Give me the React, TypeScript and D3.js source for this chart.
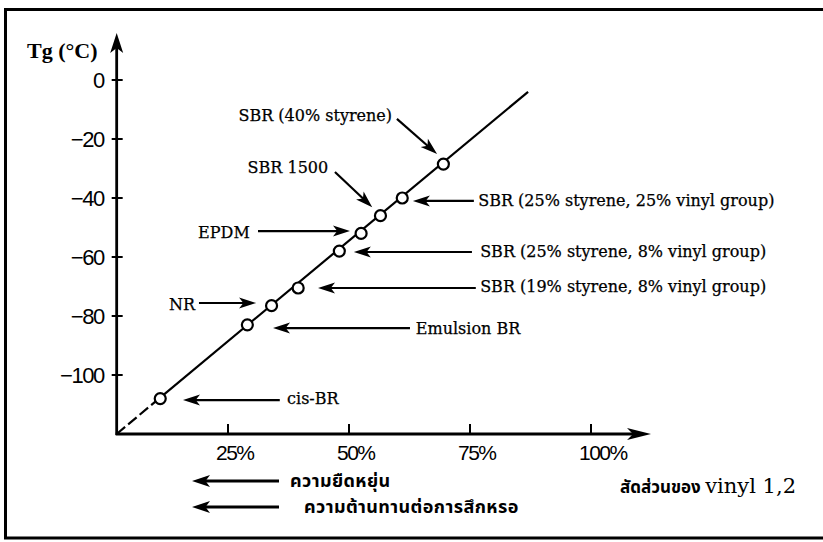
import * as d3 from "d3";
import { useEffect, useRef } from "react";

const width = 823;
const height = 542;

// rubbers: 1,2-vinyl share (%) and Tg (°C)
const rubbers = ["cis-BR", "Emulsion BR", "NR", "SBR19/8", "SBR25/8", "EPDM", "SBR 1500", "SBR25/25", "SBR40"];
const vinylShare = [11, 29, 34, 39.5, 48, 52.5, 56.5, 61, 69.5];
const tgValues = [-108, -83, -76.5, -70.5, -58, -52, -46, -40, -28.5];

const yTicks = [0, -20, -40, -60, -80, -100];
const xTicks = [25, 50, 75, 100];
const xTickLabels = ["25%", "50%", "75%", "100%"];

// fitted line, dashed below cis-BR
const trendX = [2, 10, 87];
const trendY = [-120, -109, -4];

// callouts, in data units
const calloutText = [
  "SBR (40% styrene)",
  "SBR 1500",
  "EPDM",
  "NR",
  "Emulsion BR",
  "cis-BR",
  "SBR (19% styrene, 8% vinyl group)",
  "SBR (25% styrene, 8% vinyl group)",
  "SBR (25% styrene, 25% vinyl group)",
];
const calloutAt = [
  [58.9, -11.9, "end"],
  [45.7, -29.5, "end"],
  [29.5, -51.5, "end"],
  [18.2, -75.9, "end"],
  [63.8, -84.1, "start"],
  [37.2, -107.8, "start"],
  [77.1, -69.8, "start"],
  [77.1, -58.0, "start"],
  [76.7, -40.7, "start"],
];
const calloutArrows = [
  [59.9, -13.2, 68.2, -25.1],
  [47.1, -31.2, 54.8, -43.1],
  [31.2, -51.2, 50.2, -51.2],
  [19.0, -75.6, 30.8, -75.6],
  [62.6, -84.1, 34.3, -84.1],
  [35.7, -108.5, 15.7, -108.5],
  [76.2, -70.5, 43.6, -70.5],
  [75.4, -58.3, 51.0, -58.3],
  [75.8, -41.0, 63.2, -41.0],
];

const footNotes = ["ความยืดหยุ่น", "ความต้านทานต่อการสึกหรอ"];

const serif = "'DejaVu Serif', serif";
const sans = "'Liberation Sans', Arial, sans-serif";
const thai = "'Noto Sans Thai', 'Noto Serif Thai', Loma, Garuda, 'Tlwg Typo', sans-serif";

export default function App() {
  const ref = useRef<SVGSVGElement | null>(null);

  useEffect(() => {
    document.body.style.margin = "0";
    const svg = d3.select(ref.current);
    svg.selectAll("*").remove();

    const x = d3.scaleLinear().domain([0, 100]).range([107, 591]);
    const y = d3.scaleLinear().domain([-120, 0]).range([434, 80]);
    const x0 = x(2);
    const y0 = y(-120);

    const arrowHead = (g, x1, y1, x2, y2, len = 16, w = 11) => {
      const a = Math.atan2(y2 - y1, x2 - x1);
      const bx = x2 - len * Math.cos(a);
      const by = y2 - len * Math.sin(a);
      const nx = (-Math.sin(a) * w) / 2;
      const ny = (Math.cos(a) * w) / 2;
      g.append("path")
        .attr("d", `M${x2},${y2}L${bx + nx},${by + ny}L${bx + (x2 - bx) * 0.25},${by + (y2 - by) * 0.25}L${bx - nx},${by - ny}Z`)
        .attr("fill", "black");
      return [bx + (x2 - bx) * 0.3, by + (y2 - by) * 0.3];
    };

    const arrow = (g, x1, y1, x2, y2, len = 17, w = 11, sw = 2.2) => {
      const [ex, ey] = arrowHead(g, x1, y1, x2, y2, len, w);
      g.append("line")
        .attr("x1", x1).attr("y1", y1).attr("x2", ex).attr("y2", ey)
        .attr("stroke", "black").attr("stroke-width", sw);
    };

    // frame
    svg.append("path")
      .attr("d", `M${width + 5},9.5H5.5V538H${width + 5}`)
      .attr("fill", "none").attr("stroke", "black").attr("stroke-width", 3);

    const g = svg.append("g");

    // axes
    arrow(g, x0, y0 + 1, x0, 33, 20, 13, 2.8);
    arrow(g, x0 - 1, y0, 651, y0, 24, 12, 2.8);

    g.selectAll(".ytick")
      .data(yTicks)
      .join("line")
      .attr("x1", x0 - 5).attr("x2", x0 + 6)
      .attr("y1", (d) => y(d)).attr("y2", (d) => y(d))
      .attr("stroke", "black").attr("stroke-width", 2);

    g.selectAll(".ylab")
      .data(yTicks)
      .join("text")
      .attr("x", x0 - 13)
      .attr("y", (d) => y(d))
      .attr("dy", "0.36em")
      .attr("text-anchor", "end")
      .attr("font-family", sans)
      .attr("font-size", 22)
      .attr("letter-spacing", -1.5)
      .text((d) => (d < 0 ? "\u2212" + Math.abs(d) : String(d)));

    g.selectAll(".xtick")
      .data(xTicks)
      .join("line")
      .attr("x1", (d) => x(d)).attr("x2", (d) => x(d))
      .attr("y1", y0).attr("y2", y0 - 10)
      .attr("stroke", "black").attr("stroke-width", 2);

    g.selectAll(".xlab")
      .data(xTicks)
      .join("text")
      .attr("x", (d) => x(d) - 12)
      .attr("y", y0 + 18)
      .attr("dy", "0.36em")
      .attr("font-family", sans)
      .attr("font-size", 21)
      .attr("letter-spacing", -1.5)
      .text((d, i) => xTickLabels[i]);

    g.append("text")
      .attr("x", 27).attr("y", 50).attr("dy", "0.36em")
      .attr("font-family", "'Liberation Serif', serif")
      .attr("font-weight", "bold")
      .attr("font-size", 22)
      .text("Tg (°C)");

    // trend line
    const line = d3.line<number>().x((d) => x(trendX[d])).y((d) => y(trendY[d]));
    g.append("path")
      .attr("d", line([0, 1]))
      .attr("fill", "none").attr("stroke", "black").attr("stroke-width", 2.2)
      .attr("stroke-dasharray", "11,4");
    g.append("path")
      .attr("d", line([1, 2]))
      .attr("fill", "none").attr("stroke", "black").attr("stroke-width", 2.2);

    // points
    g.selectAll(".pt")
      .data(rubbers)
      .join("circle")
      .attr("cx", (d, i) => x(vinylShare[i]))
      .attr("cy", (d, i) => y(tgValues[i]))
      .attr("r", 5.5)
      .attr("fill", "white")
      .attr("stroke", "black")
      .attr("stroke-width", 2.2);

    // callouts
    calloutArrows.forEach(([a, b, c, d]) => arrow(g, x(a), y(b), x(c), y(d)));
    g.selectAll(".lab")
      .data(calloutText)
      .join("text")
      .attr("x", (d, i) => x(calloutAt[i][0] as number))
      .attr("y", (d, i) => y(calloutAt[i][1] as number))
      .attr("dy", "0.36em")
      .attr("text-anchor", (d, i) => calloutAt[i][2] as string)
      .attr("font-family", serif)
      .attr("font-size", 16)
      .attr("stroke", "black")
      .attr("stroke-width", 0.25)
      .text((d) => d);

    // bottom notes
    footNotes.forEach((t, i) => {
      const yy = 481 + i * 26;
      arrow(g, 279, yy, 192, yy, 18, 12, 2.8);
      g.append("text")
        .attr("x", i === 0 ? 290 : 304).attr("y", yy).attr("dy", "0.36em")
        .attr("font-family", thai).attr("font-weight", "bold").attr("font-size", 18)
        .attr("letter-spacing", 0.4)
        .text(t);
    });

    const xt = g.append("text")
      .attr("x", 796).attr("y", 487).attr("dy", "0.36em")
      .attr("text-anchor", "end");
    xt.append("tspan")
      .attr("font-family", thai).attr("font-weight", "bold").attr("font-size", 17)
      .text("สัดส่วนของ ");
    xt.append("tspan")
      .attr("font-family", serif).attr("font-size", 21)
      .text("vinyl 1,2");
  }, []);

  return (
    <svg ref={ref} width={width} height={height} style={{ display: "block", background: "white" }} />
  );
}
